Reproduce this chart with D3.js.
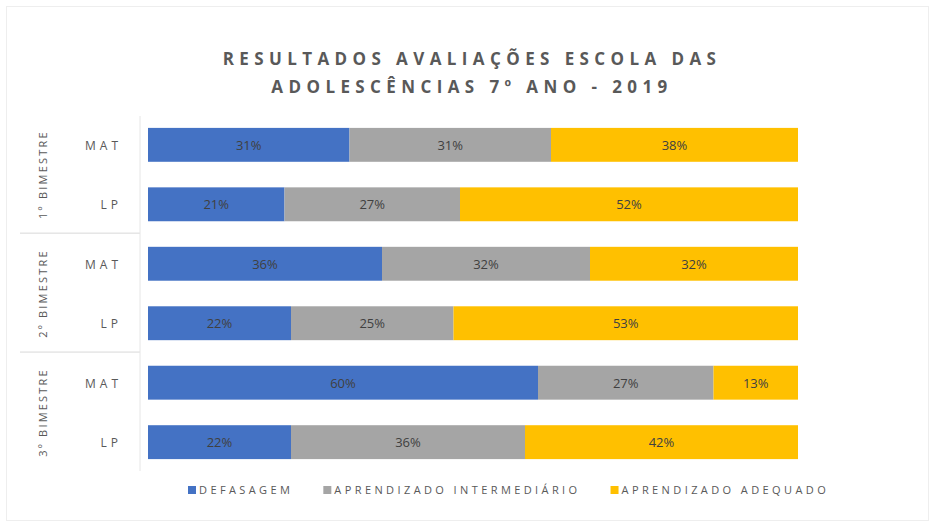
<!DOCTYPE html>
<html><head><meta charset="utf-8">
<script src="https://cdn.jsdelivr.net/npm/d3@7/dist/d3.min.js"></script>
<style>body{margin:0;background:#fff;}svg{display:block;font-family:"Open Sans","Liberation Sans",sans-serif;}</style>
</head><body><svg id="c" width="935" height="527"></svg>
<script>
const titleLines = ["RESULTADOS AVALIAÇÕES ESCOLA DAS", "ADOLESCÊNCIAS 7º ANO - 2019"];
const groups = ["1º BIMESTRE", "2º BIMESTRE", "3º BIMESTRE"];
const subjects = ["MAT", "LP"];
const seriesNames = ["DEFASAGEM", "APRENDIZADO INTERMEDIÁRIO", "APRENDIZADO ADEQUADO"];
const defasagem =     [31, 21, 36, 22, 60, 22];
const intermediario = [31, 27, 32, 25, 27, 36];
const adequado =      [38, 52, 32, 53, 13, 42];
const colors = ["#4472C4", "#A5A5A5", "#FFC000"];

const rows = [];
groups.forEach((g, gi) => subjects.forEach((s, si) => rows.push({key: g + "|" + s, group: g, subject: s})));
const series = [defasagem, intermediario, adequado];
rows.forEach((r, i) => { r.vals = series.map(a => a[i]); });

const svg = d3.select("#c");
svg.append("rect").attr("x", 6.5).attr("y", 6.5).attr("width", 922).attr("height", 514)
  .attr("fill", "none").attr("stroke", "#eeeeee");

const x = d3.scaleLinear().domain([0, 100]).range([148, 798]);
const y = d3.scaleBand().domain(rows.map(r => r.key)).range([116, 471]).paddingInner(0.43).paddingOuter(0.2);

// title
svg.append("g").selectAll("text").data(titleLines).join("text")
  .attr("x", 472).attr("y", (d, i) => 65 + i * 28)
  .attr("text-anchor", "middle").attr("font-size", 17).attr("font-weight", "bold").attr("letter-spacing", 5.4)
  .attr("fill", "#595959").text(d => d);

// bars
const gRows = svg.append("g").selectAll("g").data(rows).join("g");
gRows.each(function(r) {
  let acc = 0;
  const segs = r.vals.map((v, k) => { const s = {x0: acc, x1: acc + v, v, k}; acc += v; return s; });
  const g = d3.select(this);
  g.selectAll("rect").data(segs).join("rect")
    .attr("x", d => x(d.x0)).attr("width", d => x(d.x1) - x(d.x0))
    .attr("y", y(r.key)).attr("height", y.bandwidth())
    .attr("fill", d => colors[d.k]);
  g.selectAll("text").data(segs).join("text")
    .attr("x", d => (x(d.x0) + x(d.x1)) / 2).attr("y", y(r.key) + y.bandwidth() / 2 + 5)
    .attr("text-anchor", "middle").attr("font-size", 13).attr("fill", "#404040")
    .text(d => d.v + "%");
});

// y axis inner labels
svg.append("g").selectAll("text").data(rows).join("text")
  .attr("x", 122).attr("y", r => y(r.key) + y.bandwidth() / 2 + 5)
  .attr("text-anchor", "end").attr("font-size", 12).attr("letter-spacing", 4)
  .attr("fill", "#595959").text(r => r.subject);

// group labels
const step = y.step();
groups.forEach((g, gi) => {
  const top = y(rows[gi * 2].key) - step * 0.2;
  const bot = y(rows[gi * 2 + 1].key) + y.bandwidth() + step * 0.2;
  const cy = (top + bot) / 2;
  svg.append("text").attr("transform", `translate(47,${cy}) rotate(-90)`)
    .attr("text-anchor", "middle").attr("font-size", 11).attr("letter-spacing", 2.2)
    .attr("fill", "#595959").text(g);
  if (gi < groups.length - 1) {
    svg.append("line").attr("x1", 20).attr("x2", 140).attr("y1", bot).attr("y2", bot)
      .attr("stroke", "#d9d9d9").attr("stroke-width", 1);
  }
});
svg.append("line").attr("x1", 140).attr("x2", 140).attr("y1", 116).attr("y2", 471)
  .attr("stroke", "#e6e6e6");

// legend (laid out sequentially)
const leg = svg.append("g");
let lx = 188;
seriesNames.forEach((name, i) => {
  const g = leg.append("g").attr("transform", `translate(${lx},494)`);
  g.append("rect").attr("x", 0).attr("y", -8).attr("width", 8).attr("height", 8).attr("fill", colors[i]);
  const t = g.append("text").attr("x", 11).attr("y", 0).attr("font-size", 11).attr("letter-spacing", 3.4)
    .attr("fill", "#595959").text(name);
  lx += 11 + t.node().getComputedTextLength() + 30;
});
</script></body></html>
